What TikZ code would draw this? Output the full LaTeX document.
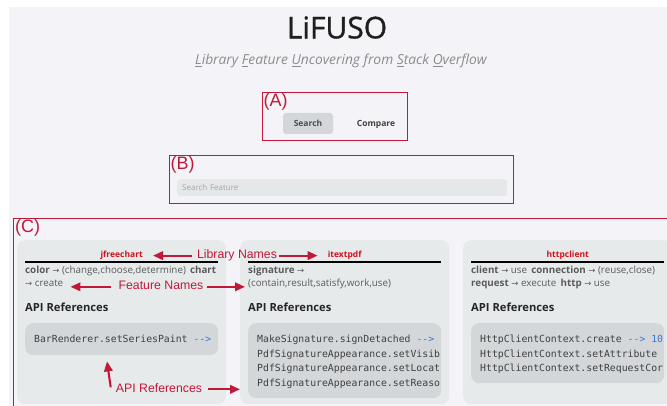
\documentclass[tikz,border=0pt]{standalone}
\usepackage{fontspec}
\setmainfont{Open Sans}
\newfontfamily\titlefont{Open Sans}[FakeBold=1.1]
\newfontfamily\notefont{Liberation Sans}
\newfontfamily\codefont{DejaVu Sans Mono}[Ligatures=NoCommon]
\newfontfamily\symfont{DejaVu Sans}
\usetikzlibrary{arrows.meta,positioning,calc}

\definecolor{pagebg}{HTML}{F4F4F8}
\definecolor{cardbg}{HTML}{E6EAEA}
\definecolor{codebg}{HTML}{D3D7DA}
\definecolor{fieldbg}{HTML}{E4E8E8}
\definecolor{markred}{HTML}{C2183A}
\definecolor{libred}{HTML}{D0101E}
\definecolor{bodygrey}{HTML}{5C5C5C}
\definecolor{codeblue}{HTML}{3C74D8}

% small helpers for the card text
\newcommand{\goes}{{\symfont\fontsize{8.5}{8}\selectfont →}}
\newcommand{\kw}[1]{\textbf{#1}}
\newcommand{\link}{{\color{codeblue}-{}-{}>}}
\newcommand{\ul}[1]{\underline{#1}}

\begin{document}
\begin{tikzpicture}[x=1pt,y=-1pt,
  panel/.style={draw=markred,line width=1.3pt,anchor=north west,inner sep=0pt},
  tag/.style={anchor=north west,inner sep=0pt,text=markred,font=\notefont\fontsize{18}{18}\selectfont},
  button/.style={fill=codebg,rounded corners=3pt,minimum width=50pt,minimum height=21pt,inner sep=0pt,
    text=black!70,font=\bfseries\fontsize{8.5}{10}\selectfont},
  field/.style={fill=fieldbg,rounded corners=3pt,anchor=north west,minimum height=17pt,text width=320pt,
    inner xsep=5pt,inner ysep=0pt,align=left,text=black!35,font=\fontsize{8}{10}\selectfont},
  card/.style={fill=cardbg,rounded corners=8pt,anchor=north west,minimum width=209pt,minimum height=164pt},
  libname/.style={inner sep=0pt,text=libred,font=\bfseries\fontsize{8.5}{10}\selectfont},
  rule/.style={line width=1.2pt,black},
  featline/.style={anchor=base west,inner sep=0pt,text=bodygrey,font=\fontsize{9.8}{12}\selectfont},
  heading/.style={anchor=base west,inner sep=0pt,text=black!85,font=\bfseries\fontsize{11.2}{12}\selectfont},
  codebox/.style={fill=codebg,rounded corners=8pt,anchor=north west,minimum width=193pt,inner sep=0pt},
  codeline/.style={anchor=base west,inner sep=0pt,text=black!75,font=\codefont\fontsize{9.8}{12}\selectfont},
  note/.style={anchor=base,inner sep=0pt,text=markred,font=\notefont\fontsize{12.3}{14}\selectfont},
  callout/.style={draw=markred,line width=2.1pt,-{Triangle[length=10pt,width=8.5pt]}}]
\useasboundingbox (0,0) rectangle (667,406);
\clip (0,0) rectangle (667,406);
\fill[white] (0,0) rectangle (667,406);
\fill[pagebg] (9,7) rectangle (667,406);

% header
\node[inner sep=0pt,text=black!88,font=\titlefont\fontsize{30}{30}\selectfont] (title) at (337,27.5) {LiFUSO};
\node[anchor=base,inner sep=0pt,text=black!45,font=\itshape\fontsize{13.8}{16}\selectfont] (subtitle) at (341,65)
  {\ul{L}ibrary \ul{F}eature \ul{U}ncovering from \ul{S}tack \ul{O}verflow};

% (A) mode switch
\node[panel,minimum width=145pt,minimum height=48pt] (boxA) at (262,92) {};
\node[tag] (tagA) at ([xshift=1.5pt,yshift=-1pt]boxA.north west) {(A)};
\node[button] (search) at (308,123.5) {Search};
\node[inner sep=0pt,font=\bfseries\fontsize{8.5}{10}\selectfont,text=black!75] (compare) at (376,124) {Compare};

% (B) search field
\node[panel,minimum width=344pt,minimum height=48pt] (boxB) at (169,155) {};
\node[tag] (tagB) at ([xshift=1.5pt,yshift=-1pt]boxB.north west) {(B)};
\node[field] (feature) at (177,179) {Search Feature};

% (C) result cards
\node[panel,minimum width=700pt,minimum height=240pt] (boxC) at (13,218) {};
\node[tag] (tagC) at ([xshift=2pt,yshift=-1pt]boxC.north west) {(C)};

\node[card] (card1) at (17,240) {};
\node[card] (card2) at (240,240) {};
\node[card] (card3) at (463,240) {};

\node[libname] (lib1) at ($(card1.north)+(0,15)$) {jfreechart};
\node[libname] (lib2) at ($(card2.north)+(0,15)$) {itextpdf};
\node[libname] (lib3) at ($(card3.north)+(0,15)$) {httpclient};

\foreach \c in {card1,card2,card3}
  \draw[rule] ($(\c.north west)+(8,22)$) -- ($(\c.north east)+(-8,22)$);

\node[featline] (feat1a) at ($(card1.north west)+(8,33)$) {\kw{color} \goes{} (change,choose,determine)\, \kw{chart}};
\node[featline] (feat1b) at ($(card1.north west)+(8,47)$) {\goes{} create};
\node[featline] (feat2a) at ($(card2.north west)+(8,33)$) {\kw{signature} \goes};
\node[featline] (feat2b) at ($(card2.north west)+(8,47)$) {(contain,result,satisfy,work,use)};
\node[featline] (feat3a) at ($(card3.north west)+(8,33)$) {\kw{client} \goes{} use\, \kw{connection} \goes{} (reuse,close)};
\node[featline] (feat3b) at ($(card3.north west)+(8,47)$) {\kw{request} \goes{} execute\, \kw{http} \goes{} use};

\foreach \c in {card1,card2,card3}
  \node[heading] (\c-api) at ($(\c.north west)+(8,71)$) {API References};

\node[codebox,minimum height=32pt] (code1) at ($(card1.north west)+(8,83)$) {};
\node[codebox,minimum height=75pt] (code2) at ($(card2.north west)+(8,83)$) {};
\node[codebox,minimum height=60pt] (code3) at ($(card3.north west)+(8,83)$) {};

\node[codeline] (api1) at ($(code1.north west)+(9,19.5)$) {BarRenderer.setSeriesPaint \link};
\begin{scope}
  \clip (code2.north west) rectangle (code2.south east);
  \node[codeline] (api2a) at ($(code2.north west)+(9,19.5)$) {MakeSignature.signDetached \link};
  \node[codeline] (api2b) at ($(code2.north west)+(9,34)$) {PdfSignatureAppearance.setVisib};
  \node[codeline] (api2c) at ($(code2.north west)+(9,48.5)$) {PdfSignatureAppearance.setLocat};
  \node[codeline] (api2d) at ($(code2.north west)+(9,63)$) {PdfSignatureAppearance.setReaso};
\end{scope}
\node[codeline] (api3a) at ($(code3.north west)+(9,19.5)$) {HttpClientContext.create \link{} {\color{codeblue}10}};
\node[codeline] (api3b) at ($(code3.north west)+(9,34)$) {HttpClientContext.setAttribute};
\node[codeline] (api3c) at ($(code3.north west)+(9,48.5)$) {HttpClientContext.setRequestCor};

% red notes
\node[note] (libnote) at (237,258.3) {Library Names};
\node[note] (featnote) at (161,289.5) {Feature Names};
\node[note] (apinote) at (159,392) {API References};

\draw[callout,shorten <=5pt,shorten >=10pt] (libnote.mid west) -- (libnote.mid west -| lib1.east);
\draw[callout,shorten <=2pt,shorten >=10pt] (libnote.mid east) -- (libnote.mid east -| lib2.west);
\draw[callout,shorten <=7pt,shorten >=7pt] (featnote.mid west) -- (featnote.mid west -| feat1b.east);
\draw[callout,shorten <=3pt,shorten >=3pt] (featnote.mid east) -- (featnote.mid east -| feat2b.west);
\draw[callout] ($(apinote.mid west)+(-5,-2)$) -- ($(code1.south west)+(82,6)$);
\draw[callout,shorten <=6pt] (apinote.mid east) -- (apinote.mid east -| card2.west);
\end{tikzpicture}
\end{document}
